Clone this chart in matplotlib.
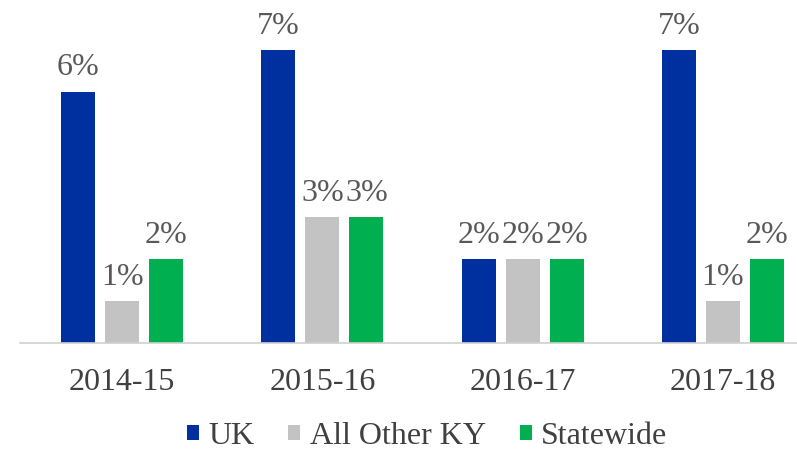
import matplotlib
matplotlib.use("Agg")
import matplotlib.pyplot as plt
from matplotlib.font_manager import FontProperties
import numpy as np

plt.rcParams['font.family'] = ['Liberation Serif', 'DejaVu Serif']

# data
years = ["2014-15", "2015-16", "2016-17", "2017-18"]
series = ["UK", "All Other KY", "Statewide"]
uk = [6, 7, 2, 7]
other_ky = [1, 3, 2, 1]
statewide = [2, 3, 2, 2]
colors = ["#0030a0", "#c3c3c3", "#00b050"]

fig = plt.figure(figsize=(7.97, 4.5), dpi=100)
ax = fig.add_axes([0.025, 0.238, 0.975, 0.762])

x = np.arange(len(years))
pitch = 0.22
width = 0.17
for i, (name, vals) in enumerate(zip(series, [uk, other_ky, statewide])):
    bars = ax.bar(x + (i - 1) * pitch, vals, width, color=colors[i], label=name)
    for b, v in zip(bars, vals):
        ax.text(b.get_x() + b.get_width() / 2, v + 0.22, f"{v}%",
                ha='center', va='bottom', fontsize=23, color='#595959')

ax.set_xlim(-0.51, 3.37)
ax.set_ylim(0, 8.19)
ax.set_xticks(x)
ax.set_xticklabels(years, fontsize=23, color='#404040')
ax.tick_params(axis='x', length=0, pad=18)
ax.set_yticks([])
for s in ['top', 'right', 'left']:
    ax.spines[s].set_visible(False)
ax.spines['bottom'].set_color('#d0d0d0')
ax.spines['bottom'].set_linewidth(1.2)

fig.legend(loc='center', bbox_to_anchor=(0.536, 0.03), ncol=3, frameon=False,
           prop=FontProperties(family='Liberation Serif', size=23),
           labelcolor='#404040', handlelength=0.38, handleheight=0.38,
           handletextpad=0.3, columnspacing=1.05)

fig.savefig("out.png", dpi=100)
